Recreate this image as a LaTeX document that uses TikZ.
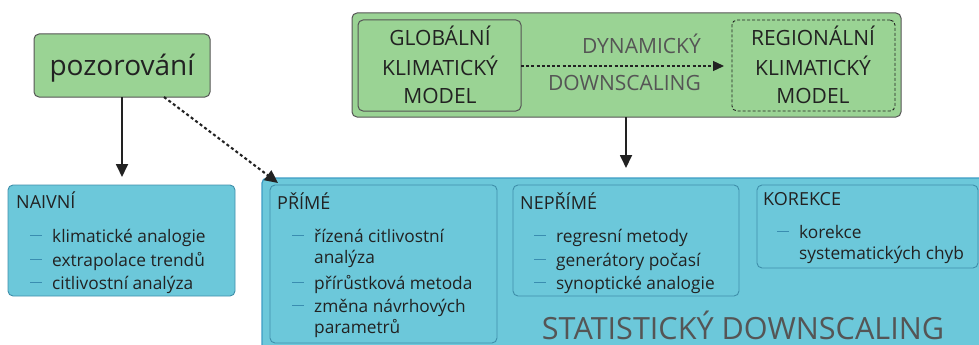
\documentclass[tikz,border=0pt]{standalone}
\usepackage{fontspec}
\setmainfont{Open Sans}
\usetikzlibrary{arrows.meta}
\definecolor{leaf}{HTML}{9AD394}
\definecolor{sky}{HTML}{6CC8DA}
\definecolor{skyedge}{HTML}{3F8FAA}
\definecolor{skytop}{HTML}{3C9CC4}
\definecolor{ink}{HTML}{222222}
\definecolor{soft}{HTML}{555555}
\definecolor{bar}{HTML}{3A8DB0}
\tikzset{
  greenbox/.style={draw=soft, fill=leaf, line width=1pt, rounded corners=5pt},
  bluebox/.style={draw=skyedge, fill=sky, line width=0.9pt, rounded corners=5pt},
  boxbody/.style={inner sep=0pt, outer sep=0pt},
  txt/.style={anchor=base west, inner sep=0pt, text=ink, font=\fontsize{17.3}{20}\selectfont},
  head/.style={txt, font=\fontsize{18}{21}\selectfont},
  caps/.style={anchor=base, inner sep=0pt, text=ink, font=\fontsize{21}{24}\selectfont},
  gcaps/.style={caps, anchor=base east, text=soft},
  arr/.style={line width=1.8pt, draw=ink, -{Triangle[length=13pt,width=12pt]}},
  darr/.style={arr, line width=2.1pt, dash pattern=on 3pt off 2.6pt},
  thin darr/.style={line width=1.2pt, draw=ink, dash pattern=on 3pt off 2.2pt,
    -{Triangle[length=11pt,width=10pt]}},
  dash item/.style={draw=bar, line width=1pt}
}
\newcommand\itemline[3]{%
  \draw[dash item] (#1,#2-7) -- (#1+12,#2-7);
  \node[txt] at (#1+22,#2) {#3};}
\begin{document}
\begin{tikzpicture}[x=1pt,y=-1pt]
\useasboundingbox (0,0) rectangle (979,345);
\clip (0,0) rectangle (979,345);

% observation box
\node[greenbox, boxbody, minimum width=176pt, minimum height=63pt, anchor=north west] (obs) at (34,34) {};
\node[anchor=base, inner sep=0pt, text=ink, font=\fontsize{28}{32}\selectfont] (obstxt) at (122,75) {pozorování};

% climate model group
\node[greenbox, boxbody, minimum width=549pt, minimum height=104pt, anchor=north west] (gcm) at (352,13) {};
\node[greenbox, fill=none, boxbody, minimum width=163pt, minimum height=91pt, anchor=north west] (glob) at (358,20) {};
\node[greenbox, fill=none, draw=ink, line width=0.9pt, dash pattern=on 3pt off 2pt, boxbody, minimum width=163pt, minimum height=91pt, anchor=north west] (reg) at (732,20) {};
\node[caps] at (440,46) {GLOBÁLNÍ};
\node[caps] at (440,75) {KLIMATICKÝ};
\node[caps] at (440,103.5) {MODEL};
\node[caps] at (813,46) {REGIONÁLNÍ};
\node[caps] at (813,75) {KLIMATICKÝ};
\node[caps] at (813,103.5) {MODEL};
\node[gcaps] at (701,53.5) {DYNAMICKÝ};
\node[gcaps] at (701,90) {DOWNSCALING};
\coordinate (regtip) at (724,66);
\draw[thin darr] (glob.east |- regtip) -- (regtip);

% statistical downscaling group
\node[bluebox, draw=skytop, line width=1.2pt, boxbody, minimum width=740pt, minimum height=190pt, anchor=north west] (stat) at (262,178) {};
\node[anchor=base, inner sep=0pt, text=soft, font=\fontsize{30.6}{34}\selectfont] at (743,339) {STATISTICKÝ DOWNSCALING};

\node[bluebox, boxbody, minimum width=227pt, minimum height=111pt, anchor=north west] (naive) at (8,185) {};
\node[bluebox, boxbody, minimum width=227pt, minimum height=158pt, anchor=north west] (prime) at (270,185) {};
\node[bluebox, boxbody, minimum width=226pt, minimum height=111pt, anchor=north west] (neprime) at (513,185) {};
\node[bluebox, boxbody, minimum width=221pt, minimum height=83pt, anchor=north west] (korekce) at (757,185) {};

% naive methods
\node[head] at (16,208) {NAIVNÍ};
\itemline{30}{242}{klimatické analogie}
\itemline{30}{266}{extrapolace trendů}
\itemline{30}{289}{citlivostní analýza}

% direct methods
\node[head] at (277,209) {PŘÍMÉ};
\itemline{292}{242}{řízená citlivostní}
\node[txt] at (314,263) {analýza};
\itemline{292}{289}{přírůstková metoda}
\itemline{292}{312}{změna návrhových}
\node[txt] at (314,333) {parametrů};

% indirect methods
\node[head] at (520,209) {NEPŘÍMÉ};
\itemline{534}{242}{regresní metody}
\itemline{534}{266}{generátory počasí}
\itemline{534}{289}{synoptické analogie}

% bias correction
\node[head] at (763,205) {KOREKCE};
\itemline{777}{238}{korekce}
\node[txt] at (799,259) {systematických chyb};

% connectors
\coordinate (naivetip) at (122,177);
\coordinate (primetip) at (278,183);
\coordinate (stattip) at (626,168);
\draw[arr] (obs.south -| naivetip) -- (naivetip);
\draw[darr] (obs.south -| 164,0) -- (primetip);
\draw[arr] (gcm.south -| stattip) -- (stattip);
\end{tikzpicture}
\end{document}
